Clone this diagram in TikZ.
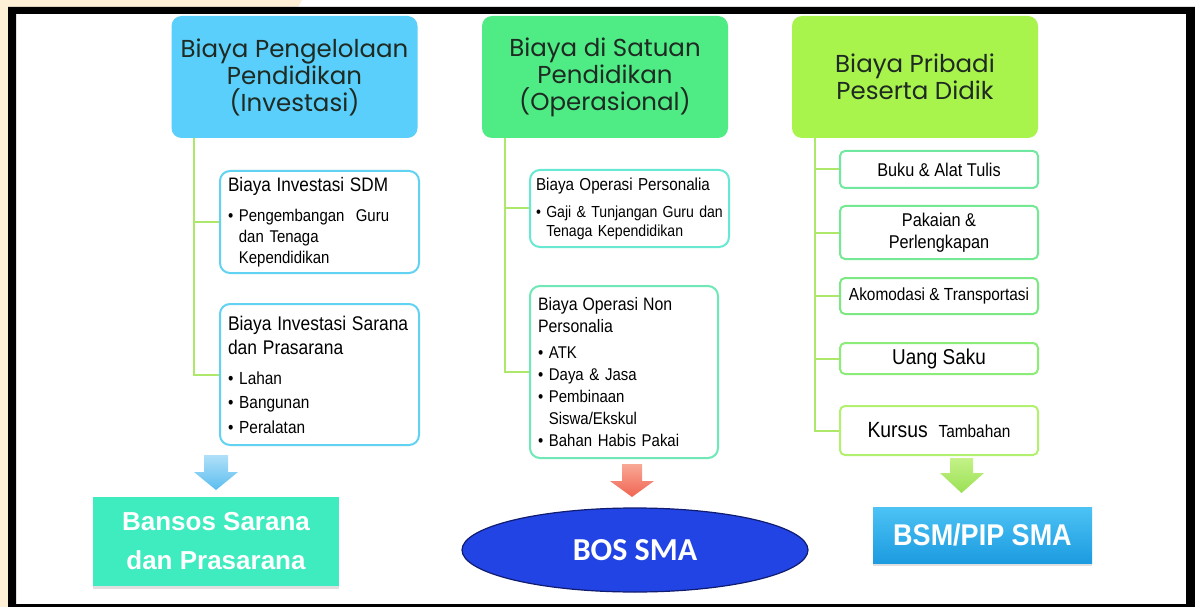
\documentclass[tikz,border=0pt]{standalone}
\usepackage{fontspec}
\usetikzlibrary{shapes.geometric,shadows}
\newfontfamily\gothic{Poppins}
\newfontfamily\narrow{Liberation Sans}[FakeStretch=0.88]
\newfontfamily\arialf{Liberation Sans}
\newfontfamily\narrowb{Liberation Sans Bold}[FakeStretch=0.9]
\newfontfamily\calib{Carlito}
\definecolor{cream}{HTML}{FDF0D6}
\definecolor{hblue}{HTML}{5ACFFB}
\definecolor{hgreen}{HTML}{4FEC85}
\definecolor{hlime}{HTML}{A9F34D}
\definecolor{htext}{HTML}{1E2A22}
\definecolor{conn}{HTML}{AEE86A}
\definecolor{bA}{HTML}{62D2F2}
\definecolor{bB1}{HTML}{66E8D2}
\definecolor{bB2}{HTML}{6EE8B6}
\definecolor{bC1}{HTML}{70E8A0}
\definecolor{bC2}{HTML}{74E892}
\definecolor{bC3}{HTML}{7CE884}
\definecolor{bC4}{HTML}{8CEC78}
\definecolor{bC5}{HTML}{B2F070}
\definecolor{mint}{HTML}{3EECC0}
\definecolor{bosblue}{HTML}{2244E4}
\definecolor{bosedge}{HTML}{101C70}
\definecolor{bsm1}{HTML}{4DC3F5}
\definecolor{bsm2}{HTML}{1C9BE0}
\definecolor{ab1}{HTML}{B0E0F8}
\definecolor{ab2}{HTML}{5CBDF0}
\definecolor{ar1}{HTML}{F9A896}
\definecolor{ar2}{HTML}{F06452}
\definecolor{ag1}{HTML}{C4F288}
\definecolor{ag2}{HTML}{9AE054}
\begin{document}
\begin{tikzpicture}[x=1pt,y=-1pt,
  hdr/.style={rounded corners=10, minimum width=246, minimum height=122, align=center,
    text=htext, font=\gothic\fontsize{24.5}{27}\selectfont},
  subbox/.style={draw, line width=2, rounded corners=10, fill=white, align=left,
    inner xsep=8, inner ysep=4, text=black},
  listbox/.style={draw, line width=2, rounded corners=5, fill=white, align=center,
    minimum width=198, inner sep=2, text=black, font=\narrow\fontsize{18.5}{22.5}\selectfont},
  conn/.style={draw=conn, line width=2},
  result/.style={text=white, align=center}]
\useasboundingbox (0,0) rectangle (1195,607);
% background and frame
\fill[white] (0,0) rectangle (1195,607);
\fill[cream] (0,0) rectangle (8,607);
\fill[cream] (0,0) -- (302,0) -- (298,7) -- (0,7) -- cycle;
\fill[black, even odd rule] (8,7) rectangle (1195,607) (16,14) rectangle (1186,604);

% headers
\node[hdr, fill=hblue] (h1) at (294.5,77) {Biaya Pengelolaan\\Pendidikan\\(Investasi)};
\node[hdr, fill=hgreen] (h2) at (605,77) {Biaya di Satuan\\Pendidikan\\(Operasional)};
\node[hdr, fill=hlime] (h3) at (915,77) {Biaya Pribadi\\Peserta Didik};

% column 1
\node[subbox, draw=bA, minimum width=199, minimum height=102, text width=183,
  font=\narrow\fontsize{17}{21}\selectfont] (s1a) at (319.5,222)
  {{\fontsize{19.5}{21}\selectfont Biaya Investasi SDM}\\[9pt]• Pengembangan\ \ Guru\\\hphantom{• }dan Tenaga\\\hphantom{• }Kependidikan};
\node[subbox, draw=bA, minimum width=199, minimum height=141, text width=183,
  font=\narrow\fontsize{17.5}{24.5}\selectfont] (s1b) at (319.5,374.5)
  {{\fontsize{19.8}{22}\selectfont Biaya Investasi Sarana\\dan Prasarana}\\[5pt]• Lahan\\• Bangunan\\• Peralatan};

% column 2
\node[subbox, draw=bB1, minimum width=199, minimum height=77, text width=187, inner xsep=6,
  font=\narrow\fontsize{16}{19}\selectfont] (s2a) at (629.5,208.5)
  {{\fontsize{17.3}{19}\selectfont Biaya Operasi Personalia}\\[8pt]• Gaji \& Tunjangan Guru dan\\\hphantom{• }Tenaga Kependidikan};
\node[subbox, draw=bB2, minimum width=188, minimum height=172, text width=172,
  font=\narrow\fontsize{17}{22}\selectfont] (s2b) at (624,372)
  {{\fontsize{18}{22}\selectfont Biaya\hspace{5pt}Operasi\hspace{5pt}Non\\Personalia}\\[4pt]• ATK\\• Daya \& Jasa\\• Pembinaan\\\hphantom{• }Siswa/Ekskul\\• Bahan Habis Pakai};

% column 3
\node[listbox, draw=bC1, minimum height=37] (c1) at (939,169.5) {Buku \& Alat Tulis};
\node[listbox, draw=bC2, minimum height=53] (c2) at (939,232.5) {Pakaian \&\\Perlengkapan};
\node[listbox, draw=bC3, minimum height=36, font=\narrow\fontsize{17.5}{20}\selectfont] (c3) at (939,296) {Akomodasi\ \& Transportasi};
\node[listbox, draw=bC4, minimum height=31, font=\narrow\fontsize{21.5}{24}\selectfont] (c4) at (939,358.5) {Uang\ Saku};
\node[listbox, draw=bC5, minimum height=49, font=\narrow\fontsize{22}{24}\selectfont] (c5) at (939,430.5) {Kursus\ \ {\fontsize{17.5}{20}\selectfont Tambahan}};

% connectors
\coordinate (v1) at ([xshift=23pt]h1.south west);
\coordinate (v2) at ([xshift=23pt]h2.south west);
\coordinate (v3) at ([xshift=23pt]h3.south west);
\draw[conn] (v1) |- (s1b.west);
\draw[conn] (v1) |- (s1a.west);
\draw[conn] (v2) |- (s2b.west);
\draw[conn] (v2) |- (s2a.west);
\draw[conn] (v3) |- (c5.west);
\draw[conn] (v3) |- (c1.west);
\draw[conn] (v3) |- (c2.west);
\draw[conn] (v3) |- (c3.west);
\draw[conn] (v3) |- (c4.west);

% block arrows
\shade[top color=ab1, bottom color=ab2] (204,455) -- (228,455) -- (228,472) -- (238,472) -- (216,490) -- (194,472) -- (204,472) -- cycle;
\shade[top color=ar1, bottom color=ar2] (622,464) -- (642,464) -- (642,481) -- (654,481) -- (632,497) -- (610,481) -- (622,481) -- cycle;
\shade[top color=ag1, bottom color=ag2] (950,458) -- (973,458) -- (973,473) -- (984,473) -- (961.5,493) -- (940,473) -- (950,473) -- cycle;

% results
\node[result, fill=mint, minimum width=246, minimum height=89,
  drop shadow={shadow xshift=0pt, shadow yshift=-3pt, opacity=0.25},
  font=\arialf\bfseries\fontsize{26}{39}\selectfont] (r1) at (216,541.5) {Bansos Sarana\\dan Prasarana};
\node[result, ellipse, fill=bosblue, draw=bosedge, line width=1.2, minimum width=346, minimum height=84,
  inner sep=0, font=\calib\bfseries\fontsize{32}{36}\selectfont] (r2) at (635,550) {BOS SMA};
\node[result, top color=bsm1, bottom color=bsm2, minimum width=219, minimum height=56,
  drop shadow={shadow xshift=0pt, shadow yshift=-3pt, opacity=0.25},
  font=\narrowb\fontsize{30}{34}\selectfont] (r3) at (982.5,535) {BSM/PIP SMA};
\end{tikzpicture}
\end{document}
